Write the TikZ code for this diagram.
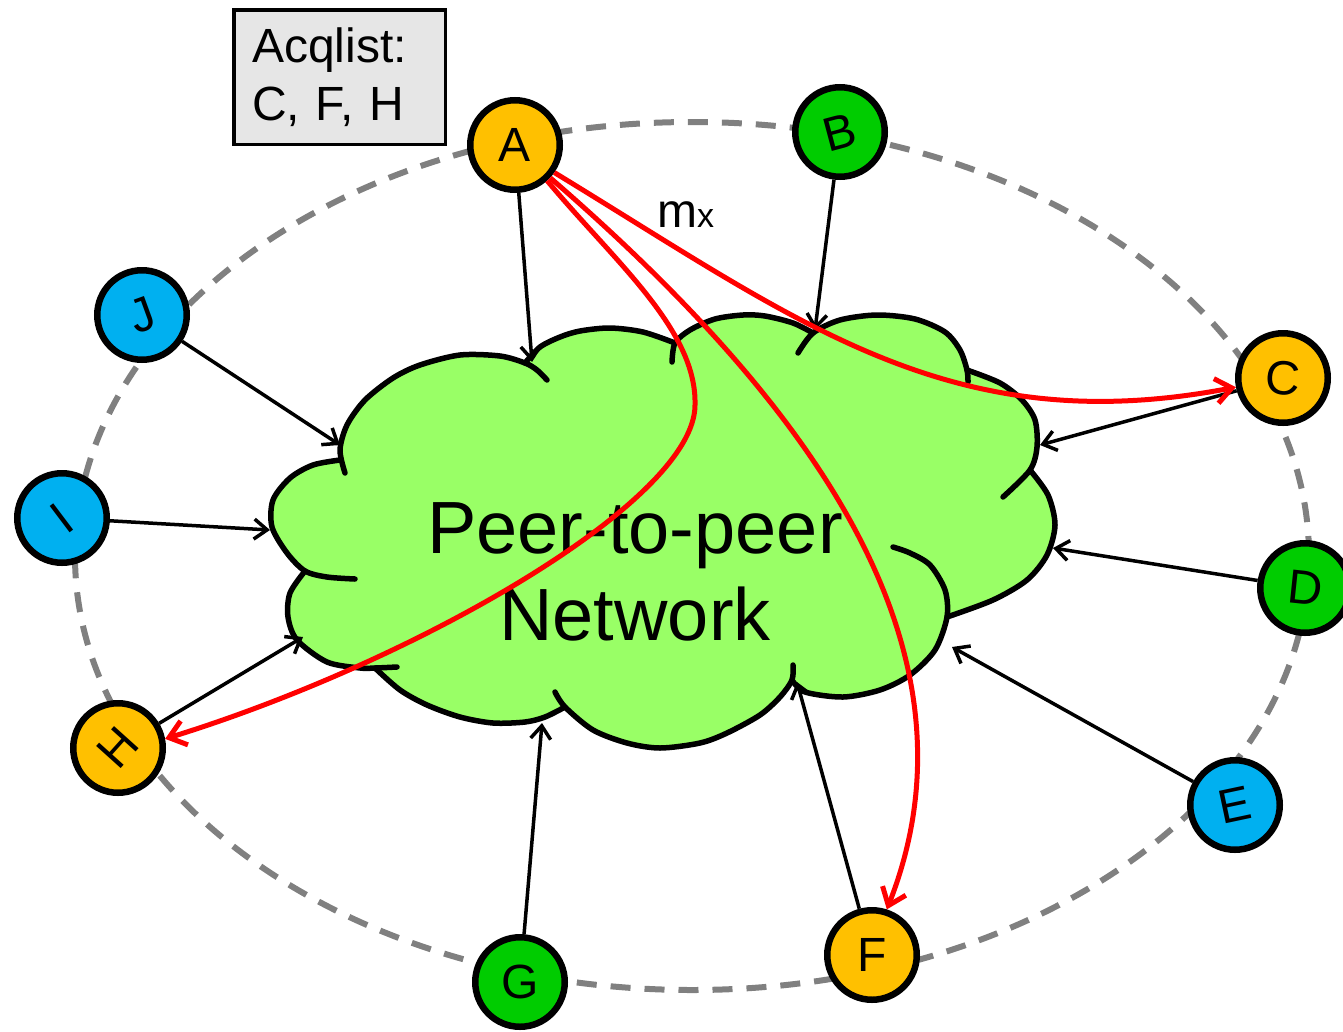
\documentclass[tikz,border=0pt]{standalone}
\usepackage{fontspec}
\setmainfont{Liberation Sans}
\usepackage{graphicx}
\usetikzlibrary{arrows.meta}

\definecolor{peerorange}{HTML}{FFC000}
\definecolor{peergreen}{HTML}{00CC00}
\definecolor{peerblue}{HTML}{00B0F0}
\definecolor{cloudgreen}{HTML}{99FF66}
\definecolor{ringgray}{HTML}{808080}
\definecolor{boxgray}{HTML}{E6E6E6}

\begin{document}
\begin{tikzpicture}[x=1pt,y=-1pt,
  peer/.style={circle, draw=black, line width=6.5pt, minimum size=89.5pt,
    inner sep=0pt, font=\fontsize{48}{48}\selectfont},
  orangepeer/.style={peer, fill=peerorange},
  greenpeer/.style={peer, fill=peergreen},
  bluepeer/.style={peer, fill=peerblue},
  linkarrow/.style={draw=black, line width=3.5pt,
    -{Straight Barb[length=13pt,width=20pt]}},
  msgarrow/.style={draw=red, line width=5pt,
    -{Straight Barb[length=16pt,width=25pt]}},
  ringline/.style={draw=ringgray, line width=6pt, dash pattern=on 20pt off 14pt},
  cloudline/.style={draw=black, line width=5.5pt, line cap=round, line join=round}
]
\useasboundingbox (0,0) rectangle (1343,1031);

% dashed overlay ring
\draw[ringline] (692,556) ellipse [x radius=617pt, y radius=434pt];

% cloud body
\fill[cloudgreen]
  plot[smooth] coordinates {(340,460) (313,465) (290,478) (273,500) (272,527) (287,553) (305,571)}
  -- plot[smooth] coordinates {(305,571) (290,593) (288,617) (297,640) (327,662) (360,668) (375,668)}
  -- plot[smooth] coordinates {(375,668) (400,690) (427,705) (460,717) (493,723) (525,722) (545,717) (565,707)}
  -- plot[smooth] coordinates {(565,707) (593,730) (627,743) (660,748) (700,743) (727,733) (760,715) (780,697) (792,680)}
  -- plot[smooth] coordinates {(792,680) (805,692) (843,697) (880,690) (910,675) (935,650) (947,617)}
  -- plot[smooth] coordinates {(947,617) (993,600) (1027,580) (1047,555) (1055,525) (1048,495) (1030,470)}
  -- plot[smooth] coordinates {(1030,470) (1037,447) (1035,420) (1022,400) (1000,383) (967,370)}
  -- plot[smooth] coordinates {(967,370) (960,350) (945,332) (915,319) (877,315) (840,320) (813,333)}
  -- plot[smooth] coordinates {(813,333) (793,323) (765,316) (743,315) (715,319) (690,330) (675,343)}
  -- plot[smooth] coordinates {(675,343) (643,332) (610,328) (580,331) (560,337) (540,347) (525,363)}
  -- plot[smooth] coordinates {(525,363) (500,356) (460,355) (420,365) (393,378) (365,400) (347,425) (340,450) (340,460)}
  -- cycle;

% cloud outline, one stroke per puff with its inner hook
\draw[cloudline] plot[smooth] coordinates {(547,380) (537,370) (525,363) (500,356) (460,355) (420,365) (393,378) (365,400) (347,425) (340,450) (345,473)};
\draw[cloudline] plot[smooth] coordinates {(340,460) (313,465) (290,478) (273,500) (272,527) (287,553) (305,571) (327,577) (355,579)};
\draw[cloudline] plot[smooth] coordinates {(305,571) (290,593) (288,617) (297,640) (327,662) (360,668) (375,668) (397,667)};
\draw[cloudline] plot[smooth] coordinates {(375,668) (400,690) (427,705) (460,717) (493,723) (525,722) (545,717) (565,707)};
\draw[cloudline] plot[smooth] coordinates {(555,692) (565,707) (593,730) (627,743) (660,748) (700,743) (727,733) (760,715) (780,697) (792,680) (793,665)};
\draw[cloudline] plot[smooth] coordinates {(792,680) (805,692) (843,697) (880,690) (910,675) (935,650) (947,617) (945,590) (930,565) (910,553) (893,547)};
\draw[cloudline] plot[smooth] coordinates {(947,617) (993,600) (1027,580) (1047,555) (1055,525) (1048,495) (1030,470)};
\draw[cloudline] plot[smooth] coordinates {(1003,497) (1030,470) (1037,447) (1035,420) (1022,400) (1000,383) (967,370)};
\draw[cloudline] plot[smooth] coordinates {(968,382) (967,370) (960,350) (945,332) (915,319) (877,315) (840,320) (813,333) (798,353)};
\draw[cloudline] plot[smooth] coordinates {(813,333) (793,323) (765,316) (743,315) (715,319) (690,330) (675,343) (672,362)};
\draw[cloudline] plot[smooth] coordinates {(675,343) (643,332) (610,328) (580,331) (560,337) (540,347) (525,363)};

% cloud label
\node[font=\fontsize{74}{87}\selectfont, align=center, inner sep=0pt] (p2p) at (635,572) {Peer-to-peer\\Network};

% peers
\node[orangepeer] (A) at (515,145) {A};
\node[greenpeer]  (B) at (840,132) {\rotatebox[origin=c]{15}{B}};
\node[orangepeer] (C) at (1283,378) {\rotatebox[origin=c]{-4}{C}};
\node[greenpeer]  (D) at (1305,588) {\rotatebox[origin=c]{-6}{D}};
\node[bluepeer]   (E) at (1235,805) {\rotatebox[origin=c]{12}{E}};
\node[orangepeer] (F) at (872,955) {F};
\node[greenpeer]  (G) at (520,982) {G};
\node[orangepeer] (H) at (118,748) {\rotatebox[origin=c]{48}{H}};
\node[bluepeer]   (I) at (62,518) {\rotatebox[origin=c]{37}{I}};
\node[bluepeer]   (J) at (142,315) {\rotatebox[origin=c]{20}{J}};

% attachment points on the cloud rim
\coordinate (tA) at (532,362);
\coordinate (tB) at (815,330);
\coordinate (tC) at (1040,445);
\coordinate (tD) at (1053,548);
\coordinate (tE) at (952,647);
\coordinate (tF) at (797,682);
\coordinate (tG) at (542,723);
\coordinate (tH) at (303,637);
\coordinate (tI) at (270,530);
\coordinate (tJ) at (340,445);
\coordinate (hbend) at (695,405);

% peers joining the network
\foreach \p in {A,B,C,D,E,F,G,H,I,J}
  \draw[linkarrow] (\p) -- (t\p);

% message m_x sent from A to the peers of its list
\draw[msgarrow] (A.-35) .. controls (800,322) and (950,442) .. (C.191);
\draw[msgarrow] (A.-43) .. controls (830,420) and (985,660) .. (F.72);
\draw[msgarrow] (A.-48) .. controls (615,262) and (697,330) .. (hbend)
  .. controls (695,500) and (420,660) .. (H.11);

\node[anchor=base west, inner sep=0pt] (mx) at (657,227)
  {\fontsize{48}{48}\selectfont m\fontsize{34}{34}\selectfont x};

% acquaintance list of A
\node[draw=black, fill=boxgray, line width=3.5pt, minimum width=211.5pt,
  minimum height=134.5pt, text width=175pt, align=left, inner sep=0pt,
  font=\fontsize{48}{58}\selectfont] (acq) at (339.5,77) {Acqlist:\\C, F, H};
\end{tikzpicture}
\end{document}
